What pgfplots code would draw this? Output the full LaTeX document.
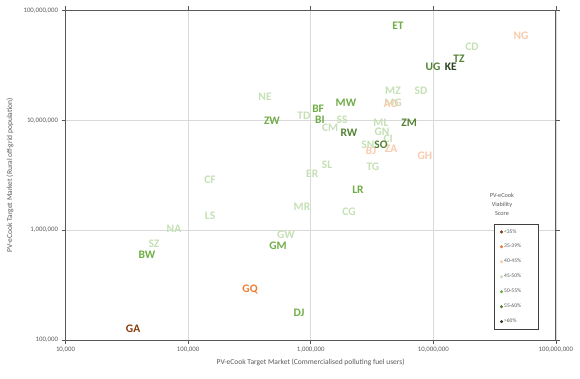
\documentclass[border=0pt]{standalone}
\usepackage{pgfplots}
\pgfplotsset{compat=1.18}
\usepackage{fontspec}
\setmainfont{Carlito}
\definecolor{cA}{HTML}{843C0C}
\definecolor{cB}{HTML}{ED7D31}
\definecolor{cC}{HTML}{F8CBAD}
\definecolor{cD}{HTML}{C5E0B4}
\definecolor{cE}{HTML}{70AD47}
\definecolor{cF}{HTML}{548235}
\definecolor{cG}{HTML}{2A4020}
\definecolor{txt}{HTML}{595959}
\definecolor{gridc}{HTML}{D9D9D9}
\newcommand{\lab}{\fontsize{11.5}{12}\selectfont\bfseries}
\pgfplotsset{
  cc/.style={only marks, mark=none, nodes near coords, point meta=explicit symbolic,
    nodes near coords style={font=\lab, text=#1, anchor=center, inner sep=0pt}}
}
\begin{document}
\begin{tikzpicture}
\useasboundingbox (-65.5pt,-38pt) rectangle (514.5pt,340pt);
\begin{axis}[
  scale only axis, width=490.4pt, height=329.6pt,
  xmode=log, ymode=log,
  xmin=1e4, xmax=1e8, ymin=1e5, ymax=1e8,
  xtick={1e4,1e5,1e6,1e7,1e8},
  xticklabels={{10,000},{100,000},{1,000,000},{10,000,000},{100,000,000}},
  ytick={1e5,1e6,1e7,1e8},
  yticklabels={{100,000},{1,000,000},{10,000,000},{100,000,000}},
  xminorticks=false, yminorticks=false,
  tick align=outside, major tick length=4pt,
  tick style={draw=txt, line width=0.6pt},
  axis line style={draw=txt, line width=0.9pt},
  grid=major, major grid style={draw=gridc, line width=0.8pt},
  ticklabel style={font=\fontsize{6.8}{7}\selectfont, text=txt},
  xlabel={PV-eCook Target Market (Commercialised polluting fuel users)},
  ylabel={PV-eCook Target Market (Rural off-grid population)},
  label style={font=\fontsize{7.5}{8}\selectfont, text=txt},
  xlabel style={at={(axis description cs:0.5,-0.0667)}, anchor=center},
  ylabel style={at={(axis description cs:-0.1132,0.5)}, anchor=center},
  clip=false,
  legend style={at={(rel axis cs:0.8738,0.352)}, anchor=north west,
    draw=black!75, line width=0.6pt, fill=white,
    font=\fontsize{5.5}{6}\selectfont, text=txt,
    inner xsep=6pt, inner ysep=3pt, row sep=5.7pt,
    nodes={text width=27pt, inner xsep=1.5pt}},
  legend cell align=left,
  legend image code/.code={\draw[#1] plot coordinates {(0pt,0pt)};},
]
\addlegendimage{only marks, mark=*, mark size=1.2pt, cA}\addlegendentry{<35\%}
\addlegendimage{only marks, mark=*, mark size=1.2pt, cB}\addlegendentry{35-39\%}
\addlegendimage{only marks, mark=*, mark size=1.2pt, cC}\addlegendentry{40-45\%}
\addlegendimage{only marks, mark=*, mark size=1.2pt, cD}\addlegendentry{45-50\%}
\addlegendimage{only marks, mark=*, mark size=1.2pt, cE}\addlegendentry{50-55\%}
\addlegendimage{only marks, mark=*, mark size=1.2pt, cF}\addlegendentry{55-60\%}
\addlegendimage{only marks, mark=*, mark size=1.2pt, cG}\addlegendentry{>60\%}

% 45-50%
\addplot[cc=cD, forget plot] table[meta=lab] {
x y lab
20700000 46500000 CD
4690000 18500000 MZ
7940000 18500000 SD
4690000 14400000 MG
424000 16300000 NE
881000 11000000 TD
1800000 10100000 SS
3740000 9470000 ML
1440000 8530000 CM
3820000 7850000 GN
4280000 6780000 CI
2930000 5970000 SN
1360000 3940000 SL
3220000 3770000 TG
1030000 3260000 ER
151000 2870000 CF
849000 1630000 MR
2050000 1470000 CG
151000 1360000 LS
76700 1030000 NA
629000 908000 GW
52700 751000 SZ
};
% 40-45%
\addplot[cc=cC, forget plot] table[meta=lab] {
x y lab
51900000 58500000 NG
4520000 14100000 AO
3100000 5270000 BJ
4520000 5500000 ZA
8550000 4740000 GH
};
% 50-55%
\addplot[cc=cE, forget plot] table[meta=lab] {
x y lab
5150000 72100000 ET
1940000 14400000 MW
1150000 12700000 BF
1190000 10100000 BI
483000 9880000 ZW
2430000 2330000 LR
541000 722000 GM
46200 597000 BW
803000 177000 DJ
};
% 55-60%
\addplot[cc=cF, forget plot] table[meta=lab] {
x y lab
16200000 36100000 TZ
9960000 30500000 UG
6340000 9470000 ZM
2050000 7670000 RW
3740000 5970000 SO
};
% >60%
\addplot[cc=cG, forget plot] table[meta=lab] {
x y lab
13900000 30500000 KE
};
% 35-39%
\addplot[cc=cB, forget plot] table[meta=lab] {
x y lab
320000 287000 GQ
};
% <35%
\addplot[cc=cA, forget plot] table[meta=lab] {
x y lab
35600 127000 GA
};
\node[font=\fontsize{6.2}{9}\selectfont, text=txt, align=center, anchor=center]
  at (rel axis cs:0.890,0.4126) {PV-eCook\\Viability\\Score};
\end{axis}
\end{tikzpicture}
\end{document}
